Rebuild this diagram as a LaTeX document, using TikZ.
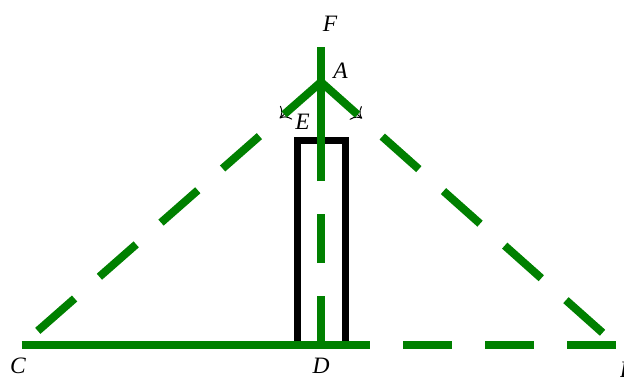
\documentclass[tikz,border=0pt]{standalone}
\usepackage{fontspec}
\setmainfont{Liberation Serif}
\usetikzlibrary{arrows.meta,calc}
\begin{document}
\begin{tikzpicture}[x=1pt,y=-1pt,
  gline/.style={draw=green!50!black, line width=8pt},
  dashline/.style={gline, dash pattern=on 49pt off 33pt},
  bline/.style={draw=black, line width=7pt, line join=miter},
  arr/.style={draw=black, line width=1pt, -{To[length=9pt,width=18pt]}},
  lbl/.style={inner sep=0pt, font=\fontsize{23.5}{27}\selectfont\itshape}]
\useasboundingbox (0,0) rectangle (624,376);
% points
\coordinate (A) at (321,82);
\coordinate (C) at (21.7,345);
\coordinate (D) at (321,345);
\coordinate (B) at (616.3,345);
\coordinate (F) at (321,47);
\coordinate (E) at (321,140);
\coordinate (R1) at (297.5,345);
\coordinate (R2) at (297.5,140);
\coordinate (R3) at (345,140);
\coordinate (R4) at (345,345);
\coordinate (PL) at ($(A)!55pt!(C)$);
\coordinate (PR) at ($(A)!55pt!(B)$);
% rectangle
\draw[bline] (R1) -- (R2) -- (R3) -- (R4);
% arrows
\draw[arr] (A) -- (PL);
\draw[arr] (A) -- (PR);
% green lines
\draw[gline] (C) -- (D);
\draw[dashline] (D) -- (B);
\draw[dashline] (A) -- (C);
\draw[dashline] (A) -- (B);
\draw[gline] (F) -- (E);
\draw[dashline] (D) -- (A);
% labels
\node[lbl] (lF) at (330,23.5) {F};
\node[lbl] (lA) at (340.5,71) {A};
\node[lbl] (lE) at (302.5,121.5) {E};
\node[lbl] (lC) at (18,366) {C};
\node[lbl] (lD) at (321,365.5) {D};
\node[lbl] (lB) at (627,370) {B};
\end{tikzpicture}
\end{document}
